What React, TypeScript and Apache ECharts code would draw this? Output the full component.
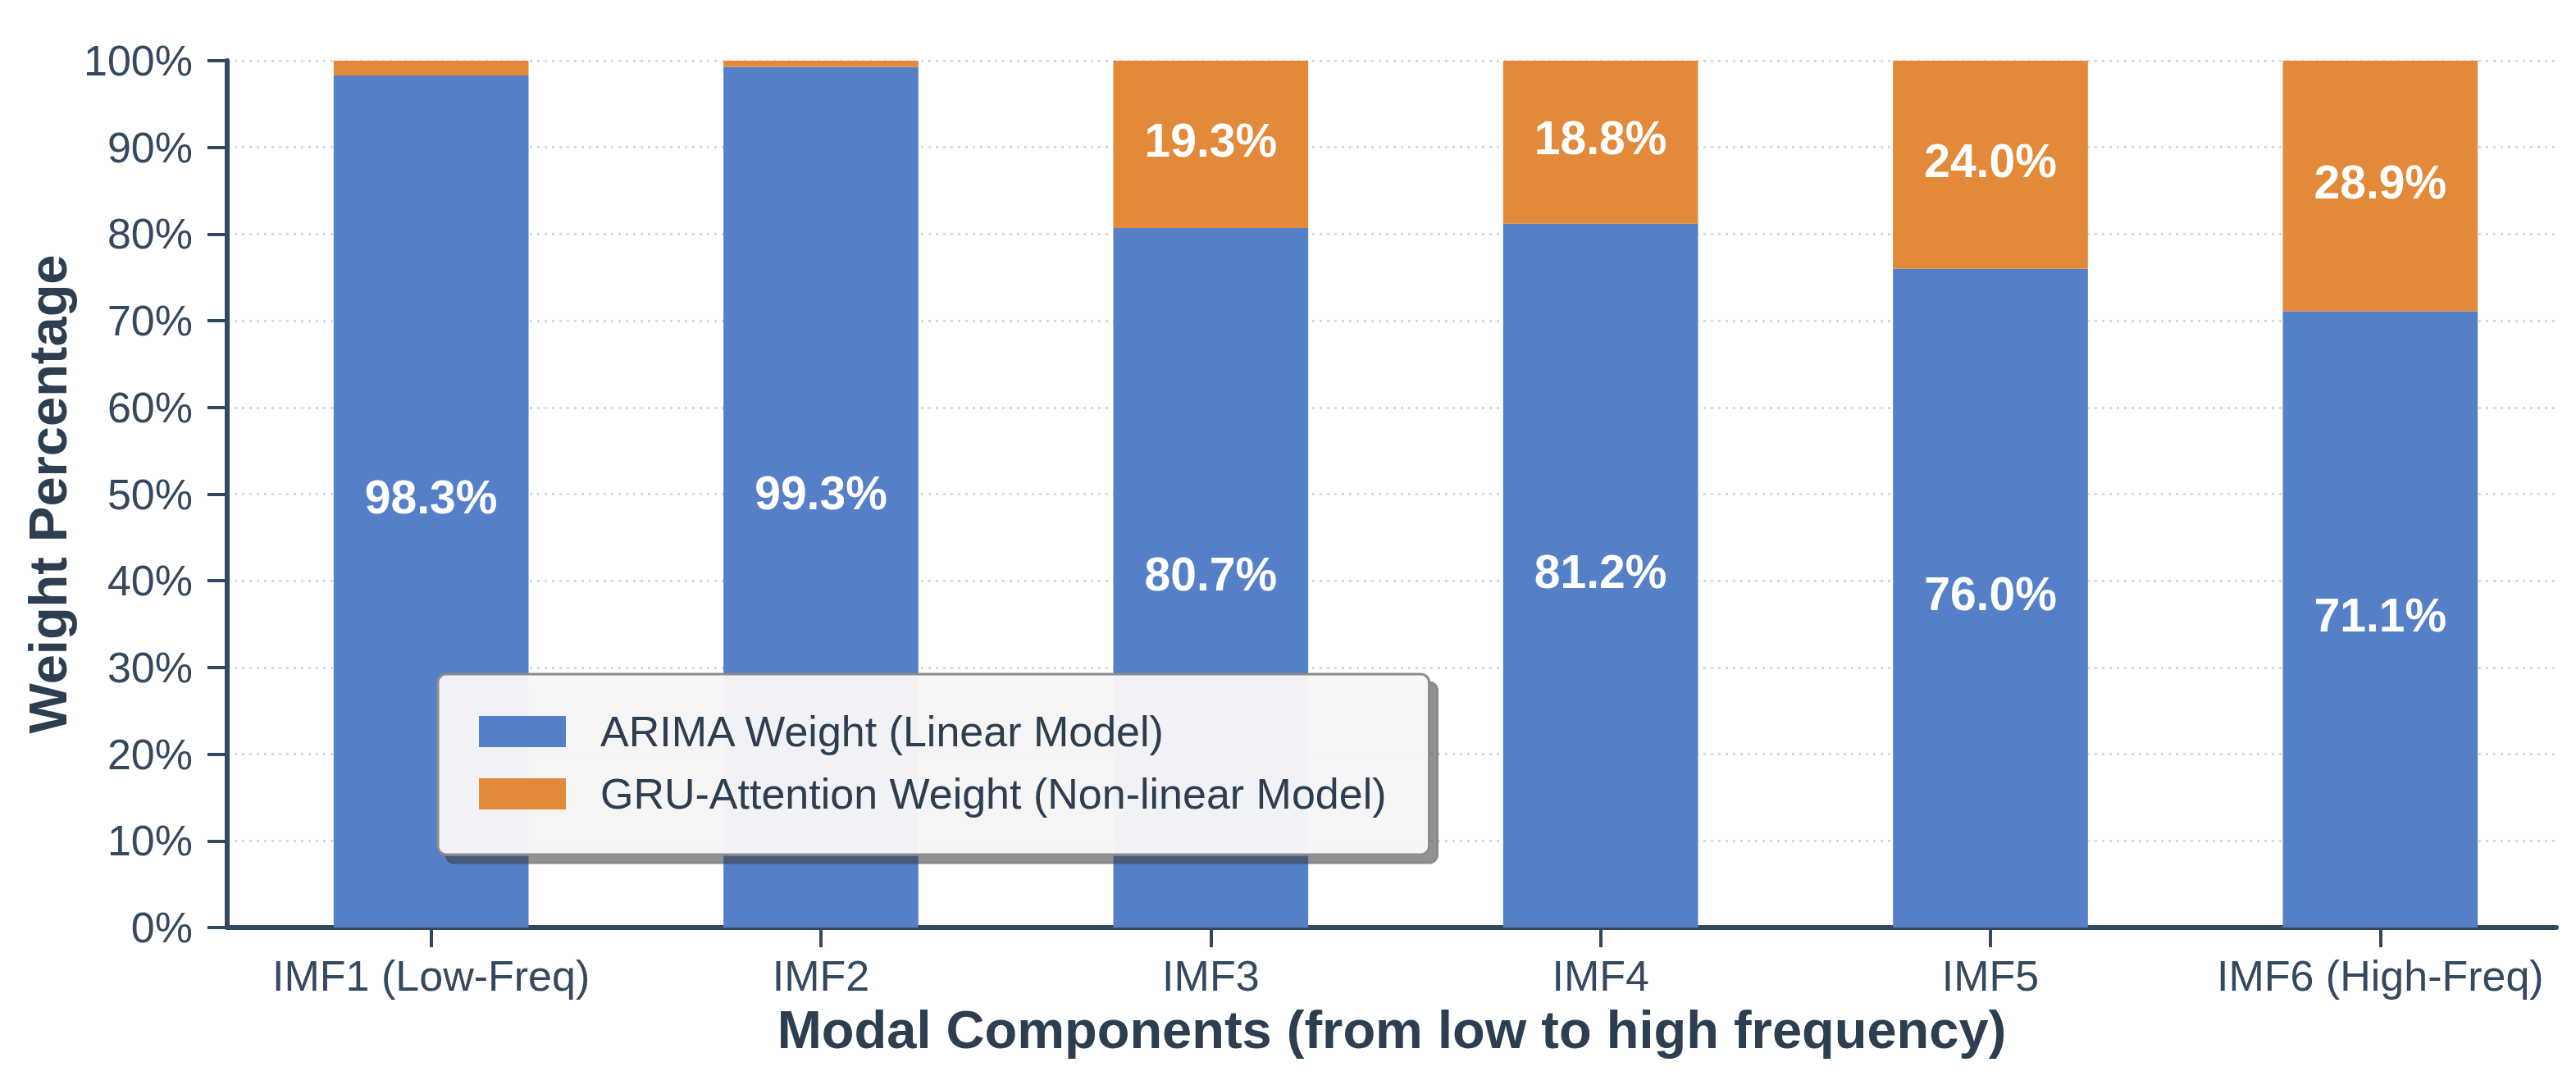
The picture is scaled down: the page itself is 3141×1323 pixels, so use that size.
import React, { useEffect, useRef } from "react";
import * as echarts from "echarts";

const categories = ["IMF1 (Low-Freq)", "IMF2", "IMF3", "IMF4", "IMF5", "IMF6 (High-Freq)"];
const arimaWeights = [98.3, 99.3, 80.7, 81.2, 76.0, 71.1];
const gruWeights = [1.7, 0.7, 19.3, 18.8, 24.0, 28.9];
const seriesNames = ["ARIMA Weight (Linear Model)", "GRU-Attention Weight (Non-linear Model)"];
const xTitle = "Modal Components (from low to high frequency)";
const yTitle = "Weight Percentage";
const labelThreshold = 5;

const FONT = "'Liberation Sans', Arial, Helvetica, sans-serif";
const AXIS = "#34495e";
const TITLE = "#2c3e50";
const BLUE = "#5580c8";
const ORANGE = "#e3893a";

export default function App() {
  const ref = useRef<HTMLDivElement>(null);
  useEffect(() => {
    document.body.style.margin = "0";
    if (!ref.current) return;
    const chart = echarts.init(ref.current, undefined, { renderer: "svg" });
    const pct = (v: number) => `${v.toFixed(1)}%`;
    const barLabel = {
      position: "inside",
      offset: [0, -5],
      formatter: (p: any) => pct(p.value),
      fontFamily: FONT,
      fontSize: 57,
      fontWeight: "bold",
      color: "#ffffff",
    };
    chart.setOption({
      animation: false,
      backgroundColor: "#ffffff",
      textStyle: { fontFamily: FONT },
      grid: [
        { left: 277, right: 24, top: 74, bottom: 192, containLabel: false },
        { left: 288, right: 1, top: 74, bottom: 192, containLabel: false },
      ],
      legend: {
        orient: "vertical",
        left: 534,
        top: 822,
        data: seriesNames,
        icon: "rect",
        itemWidth: 106,
        itemHeight: 38,
        itemGap: 20,
        padding: [42, 52, 46, 50],
        backgroundColor: "rgba(248,248,249,0.95)",
        borderColor: "#8c8c8c",
        borderWidth: 3,
        borderRadius: 10,
        shadowColor: "rgba(60,60,60,0.6)",
        shadowBlur: 1,
        shadowOffsetX: 10,
        shadowOffsetY: 10,
        textStyle: {
          fontFamily: FONT,
          fontSize: 52,
          lineHeight: 56,
          color: TITLE,
          padding: [0, 0, 0, 37],
        },
      },
      xAxis: [
        {
          type: "value",
          gridIndex: 0,
          min: 0,
          max: 1,
          axisLine: { show: true, lineStyle: { color: AXIS, width: 6 } },
          axisTick: { show: false },
          axisLabel: { show: false },
          splitLine: { show: false },
          name: xTitle,
          nameLocation: "middle",
          nameGap: 92,
          nameTextStyle: { fontFamily: FONT, fontSize: 65, fontWeight: "bold", color: TITLE },
        },
        {
          type: "category",
          gridIndex: 1,
          data: categories,
          axisLine: { show: false },
          axisTick: { show: true, alignWithLabel: true, interval: 0, length: 24, lineStyle: { color: AXIS, width: 4 } },
          axisLabel: { interval: 0, fontFamily: FONT, fontSize: 52, color: AXIS, margin: 33 },
          splitLine: { show: false },
        },
      ],
      yAxis: [
        {
          type: "value",
          gridIndex: 0,
          min: 0,
          max: 100,
          interval: 10,
          axisLine: { show: true, lineStyle: { color: AXIS, width: 6 } },
          axisTick: { show: true, length: 24, lineStyle: { color: AXIS, width: 4 } },
          axisLabel: { formatter: "{value}%", fontFamily: FONT, fontSize: 52, color: AXIS, margin: 42 },
          splitLine: { show: true, lineStyle: { color: "#d6d9dc", width: 3, type: [3, 6] } },
          name: yTitle,
          nameLocation: "middle",
          nameRotate: 90,
          nameGap: 185,
          nameTextStyle: { fontFamily: FONT, fontSize: 65, fontWeight: "bold", color: TITLE },
        },
        { type: "value", gridIndex: 1, min: 0, max: 100, show: false },
      ],
      series: [
        {
          name: seriesNames[0],
          type: "bar",
          xAxisIndex: 1,
          yAxisIndex: 1,
          stack: "w",
          barWidth: "50%",
          itemStyle: { color: BLUE },
          data: arimaWeights.map((v) => ({ value: v, label: { show: v > labelThreshold } })),
          label: barLabel,
        },
        {
          name: seriesNames[1],
          type: "bar",
          xAxisIndex: 1,
          yAxisIndex: 1,
          stack: "w",
          barWidth: "50%",
          itemStyle: { color: ORANGE },
          data: gruWeights.map((v) => ({ value: v, label: { show: v > labelThreshold } })),
          label: barLabel,
        },
      ],
    });
    return () => chart.dispose();
  }, []);
  return <div ref={ref} style={{ width: 3141, height: 1323 }} />;
}
